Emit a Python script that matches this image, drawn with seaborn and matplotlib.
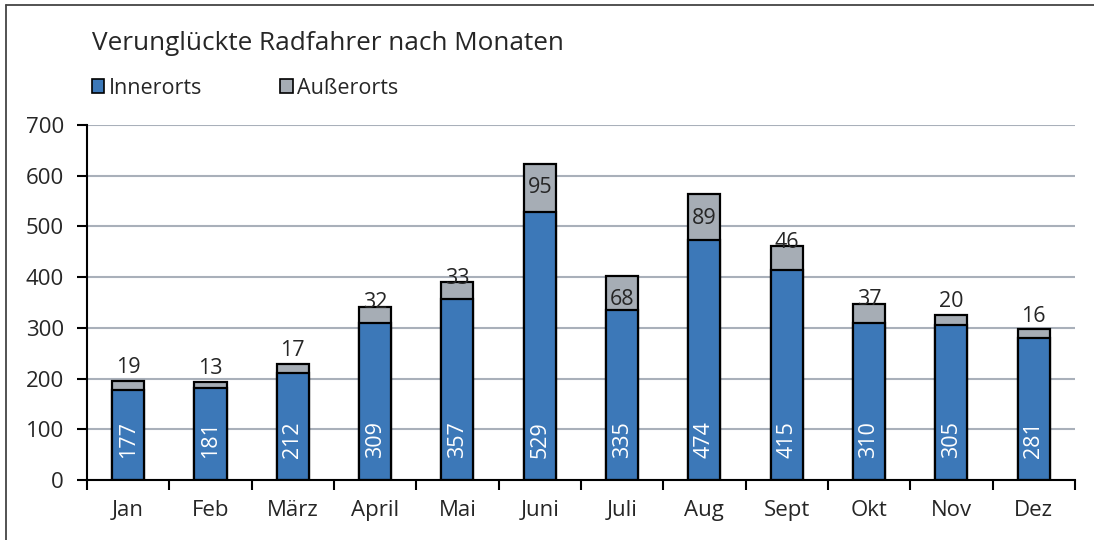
import matplotlib
matplotlib.use("Agg")
import pandas as pd
import seaborn as sns
import matplotlib.pyplot as plt
from matplotlib.patches import Patch
from matplotlib.lines import Line2D

# Daten
monate = ["Jan", "Feb", "März", "April", "Mai", "Juni", "Juli", "Aug", "Sept", "Okt", "Nov", "Dez"]
innerorts = [177, 181, 212, 309, 357, 529, 335, 474, 415, 310, 305, 281]
ausserorts = [19, 13, 17, 32, 33, 95, 68, 89, 46, 37, 20, 16]

df = pd.DataFrame({"Monat": monate, "Innerorts": innerorts, "Außerorts": ausserorts})
df["Gesamt"] = df["Innerorts"] + df["Außerorts"]

blau = "#3c78b8"
grau = "#a6adb5"

sns.set_style("white")
plt.rcParams["font.family"] = ["Open Sans", "DejaVu Sans"]

fig = plt.figure(figsize=(10.94, 5.40), dpi=100)
ax = fig.add_axes([0.0795, 0.111, 0.903, 0.6575])

# Gestapelte Balken: erst Gesamt (grau), dann Innerorts (blau) darüber
sns.barplot(data=df, x="Monat", y="Gesamt", color=grau, width=0.39,
            edgecolor="black", linewidth=1.6, saturation=1, ax=ax)
sns.barplot(data=df, x="Monat", y="Innerorts", color=blau, width=0.39,
            edgecolor="black", linewidth=1.6, saturation=1, ax=ax)

ax.set_ylim(0, 700)
ax.set_xlim(-0.5, len(monate) - 0.5)
ax.set_yticks(range(0, 701, 100))
ax.set_xlabel("")
ax.set_ylabel("")

ax.yaxis.grid(True, color="#a9b0ba", linewidth=1.5)
ax.set_axisbelow(True)
for s in ["top", "right"]:
    ax.spines[s].set_visible(False)
for s in ["left", "bottom"]:
    ax.spines[s].set_color("black")
    ax.spines[s].set_linewidth(1.5)

ax.tick_params(axis="y", length=7, width=1.5, color="black", pad=9.5, labelsize=16, direction="out", left=True)
ax.tick_params(axis="x", which="major", length=0, pad=14, labelsize=16)
ax.set_xticks([i - 0.5 for i in range(len(monate) + 1)], minor=True)
ax.tick_params(axis="x", which="minor", length=7, width=1.5, color="black", direction="out", bottom=True)

# Beschriftungen
for i, (inn, aus) in enumerate(zip(innerorts, ausserorts)):
    ax.annotate(str(inn), (i, 0), xytext=(0, 16), textcoords="offset points",
                ha="center", va="bottom", rotation=90, color="white", fontsize=15.5)
    top = inn + aus
    if aus >= 60:
        ax.annotate(str(aus), (i, top), xytext=(0, -17), textcoords="offset points",
                    ha="center", va="center", fontsize=15.5)
    elif aus >= 30:
        ax.annotate(str(aus), (i, top), xytext=(0, 3), textcoords="offset points",
                    ha="center", va="center", fontsize=15.5)
    else:
        ax.annotate(str(aus), (i, top), xytext=(0, 2), textcoords="offset points",
                    ha="center", va="bottom", fontsize=15.5)

fig.text(0.084, 0.92, "Verunglückte Radfahrer nach Monaten", fontsize=18.8, va="center", ha="left")

handles = [Patch(facecolor=blau, edgecolor="black", linewidth=1.2),
           Patch(facecolor=grau, edgecolor="black", linewidth=1.2)]
fig.legend(handles, ["Innerorts", "Außerorts"], loc="center left", bbox_to_anchor=(0.066, 0.837),
           ncol=2, frameon=False, fontsize=15.5, handlelength=0.6, handleheight=0.6,
           handletextpad=0.2, columnspacing=3.6)

# Rahmen
fig.add_artist(Line2D([0.0055, 0.0055], [0, 0.991], transform=fig.transFigure, color="#444444", lw=1.3))
fig.add_artist(Line2D([0.0055, 1], [0.991, 0.991], transform=fig.transFigure, color="#444444", lw=1.3))

fig.savefig("out.png", dpi=100)
